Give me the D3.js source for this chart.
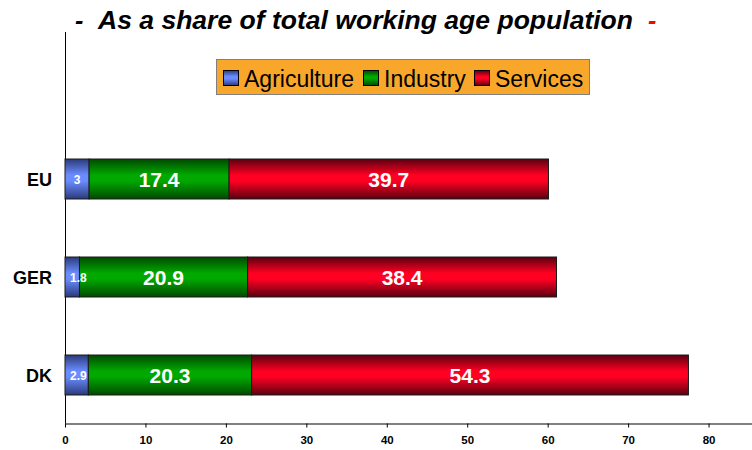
<!DOCTYPE html>
<html><head><meta charset="utf-8">
<script src="https://cdn.jsdelivr.net/npm/d3@7"></script>
<style>body{margin:0;background:#fff}svg{display:block}</style>
</head><body>
<script>
const categories = ["EU", "GER", "DK"];
const seriesNames = ["Agriculture", "Industry", "Services"];
const agriculture = [3, 1.8, 2.9];
const industry = [17.4, 20.9, 20.3];
const services = [39.7, 38.4, 54.3];
const xTicks = [0, 10, 20, 30, 40, 50, 60, 70, 80];

const W = 752, H = 450;
const FONT = "Liberation Sans, Arial, sans-serif";
const svg = d3.select("body").append("svg").attr("width", W).attr("height", H);
const defs = svg.append("defs");
const grads = [
  {id: "gA", edge: "#2a3a7a", mid: "#6b8cff"},
  {id: "gI", edge: "#004a00", mid: "#00a800"},
  {id: "gS", edge: "#5a0010", mid: "#ff0022"}
];
grads.forEach(g => {
  const lg = defs.append("linearGradient").attr("id", g.id).attr("x1", 0).attr("y1", 0).attr("x2", 0).attr("y2", 1);
  lg.append("stop").attr("offset", "0%").attr("stop-color", g.edge);
  lg.append("stop").attr("offset", "40%").attr("stop-color", g.mid);
  lg.append("stop").attr("offset", "55%").attr("stop-color", g.mid);
  lg.append("stop").attr("offset", "100%").attr("stop-color", g.edge);
});

const x = d3.scaleLinear().domain([0, 85.4]).range([65, 752]);
const y = d3.scaleBand().domain(categories).range([130, 424]).paddingInner(0.592).paddingOuter(0.296);

// title
const title = svg.append("g").attr("font-family", FONT).attr("font-weight", "bold")
  .attr("font-style", "italic").attr("font-size", 25);
title.append("text").attr("x", 75).attr("y", 29).attr("fill", "#000").text("-");
title.append("text").attr("x", 98).attr("y", 29).attr("fill", "#000")
  .attr("textLength", 535).attr("lengthAdjust", "spacingAndGlyphs")
  .text("As a share of total working age population");
title.append("text").attr("x", 648).attr("y", 29).attr("fill", "#ff0000").text("-");

// y axis line
svg.append("line").attr("x1", 65.5).attr("x2", 65.5).attr("y1", 32).attr("y2", 424).attr("stroke", "#000").attr("stroke-width", 1);

// x axis
const xAxis = d3.axisBottom(x).tickValues(xTicks).tickSize(4).tickSizeOuter(0).tickFormat(d3.format("d"));
const gx = svg.append("g").attr("transform", "translate(0,423.5)").call(xAxis);
gx.select(".domain").attr("stroke", "#808080").attr("stroke-width", 2);
gx.selectAll(".tick line").attr("stroke", "#000");
gx.selectAll(".tick text").attr("font-family", FONT)
  .attr("font-weight", "bold").attr("font-size", 11.5).attr("fill", "#000").attr("dy", "1.2em");

// category labels
svg.append("g").selectAll("text").data(categories).join("text")
  .attr("x", 52).attr("y", d => y(d) + y.bandwidth() / 2 + 6.5)
  .attr("text-anchor", "end").attr("font-family", FONT)
  .attr("font-weight", "bold").attr("font-size", 18).text(d => d);

// stacked data
const rows = categories.map((c, i) => ({cat: c, Agriculture: agriculture[i], Industry: industry[i], Services: services[i]}));
const stack = d3.stack().keys(seriesNames)(rows);
const fills = {Agriculture: "url(#gA)", Industry: "url(#gI)", Services: "url(#gS)"};

const barsG = svg.append("g");
const labelsG = svg.append("g");
stack.forEach(layer => {
  barsG.append("g").selectAll("rect").data(layer).join("rect")
    .attr("x", d => x(d[0])).attr("width", d => x(d[1]) - x(d[0]))
    .attr("y", d => y(d.data.cat)).attr("height", y.bandwidth())
    .attr("fill", fills[layer.key]).attr("stroke", "#1a1a1a").attr("stroke-width", 1);
});
stack.forEach(layer => {
  const small = layer.key === "Agriculture";
  const t = labelsG.append("g").selectAll("text").data(layer).join("text")
    .attr("y", d => y(d.data.cat) + y.bandwidth() / 2 + (small ? 4.5 : 7.5))
    .attr("fill", "#fff")
    .attr("font-family", FONT).attr("font-weight", "bold")
    .attr("font-size", small ? 12 : 21)
    .text(d => d.data[layer.key]);
  if (small) {
    t.attr("text-anchor", "start").each(function(d) {
      const w = this.getComputedTextLength();
      const cx = (x(d[0]) + x(d[1])) / 2;
      d3.select(this).attr("x", Math.max(cx - w / 2, x(d[0]) + 5));
    });
  } else {
    t.attr("text-anchor", "middle").attr("x", d => (x(d[0]) + x(d[1])) / 2);
  }
});

// legend
const lg = svg.append("g");
lg.append("rect").attr("x", 216.5).attr("y", 59.5).attr("width", 373).attr("height", 35)
  .attr("fill", "#f9a72b").attr("stroke", "#808080").attr("stroke-width", 1);
const legItems = [
  {name: "Agriculture", fill: "url(#gA)", x: 223},
  {name: "Industry", fill: "url(#gI)", x: 363},
  {name: "Services", fill: "url(#gS)", x: 474}
];
legItems.forEach(it => {
  lg.append("rect").attr("x", it.x + 0.5).attr("y", 70.5).attr("width", 15).attr("height", 15)
    .attr("fill", it.fill).attr("stroke", "#000").attr("stroke-width", 1);
  lg.append("text").attr("x", it.x + 21).attr("y", 86.5).attr("font-family", FONT)
    .attr("font-size", 23).attr("fill", "#000").text(it.name);
});
</script>
</body></html>
